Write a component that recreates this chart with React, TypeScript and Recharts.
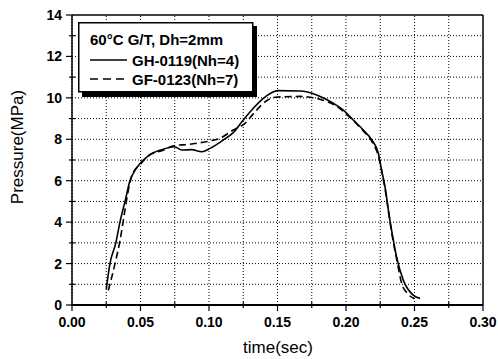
import React from "react"
import {
  LineChart,
  Line,
  XAxis,
  YAxis,
  Legend,
  Label,
  ReferenceLine
} from "recharts"

// GH-0119 (Nh=4), solid
const solidTime = [
  0.025, 0.0277, 0.032, 0.035, 0.0387, 0.0423, 0.046, 0.05, 0.0557, 0.0655,
  0.075, 0.08, 0.0874, 0.0947, 0.1007, 0.1105, 0.1177, 0.125, 0.1323, 0.1396,
  0.1457, 0.15, 0.1664, 0.1786, 0.1907, 0.198, 0.2053, 0.2126, 0.2188, 0.2236,
  0.226, 0.2285, 0.2309, 0.2333, 0.237, 0.2418, 0.249, 0.254
]
const solidPressure = [
  0.76, 2.0, 3.0, 4.0, 5.0, 6.0, 6.5, 6.85, 7.2, 7.5,
  7.64, 7.48, 7.5, 7.4, 7.56, 7.97, 8.32, 8.93, 9.5, 9.98,
  10.25, 10.35, 10.33, 10.14, 9.74, 9.41, 8.93, 8.45, 7.97, 7.32,
  6.5, 5.7, 4.6, 3.6, 2.3, 1.2, 0.48, 0.32
]

// GF-0123 (Nh=7), dashed
const dashedTime = [
  0.0265, 0.0314, 0.035, 0.0387, 0.041, 0.044, 0.05, 0.0557, 0.0655, 0.075,
  0.085, 0.095, 0.1007, 0.108, 0.1177, 0.1263, 0.1336, 0.1421, 0.1482, 0.1664,
  0.181, 0.193, 0.2053, 0.2126, 0.2188, 0.2236, 0.2285, 0.2333, 0.237, 0.2406,
  0.245, 0.25
]
const dashedPressure = [
  0.7, 2.0, 3.1, 4.6, 5.5, 6.3, 6.8, 7.2, 7.45, 7.7,
  7.75, 7.85, 7.92, 8.05, 8.45, 8.77, 9.33, 9.86, 10.03, 10.07,
  9.93, 9.6, 8.9, 8.4, 7.9, 7.2, 5.6, 3.5, 2.2, 1.05,
  0.55, 0.3
]

const xTicks = [
  0, 0.025, 0.05, 0.075, 0.1, 0.125, 0.15, 0.175, 0.2, 0.225, 0.25, 0.275, 0.3
]
const xMajor = [0, 0.05, 0.1, 0.15, 0.2, 0.25, 0.3]
const yTicks = [0, 1, 2, 3, 4, 5, 6, 7, 8, 9, 10, 11, 12, 13, 14]
const yMajor = [0, 2, 4, 6, 8, 10, 12, 14]

const legendTitle = "60°C G/T, Dh=2mm"
const solidName = "GH-0119(Nh=4)"
const dashedName = "GF-0123(Nh=7)"

const FONT = "'Liberation Sans', Arial, sans-serif"

const solidData = solidTime.map((t, i) => ({ time: t, pressure: solidPressure[i] }))
const dashedData = dashedTime.map((t, i) => ({ time: t, pressure: dashedPressure[i] }))

const isMajor = (list: number[], v: number) =>
  list.some((m) => Math.abs(m - v) < 1e-6)

function YTick(props: any) {
  const { x, y, payload } = props
  const major = isMajor(yMajor, payload.value)
  return (
    <g>
      <line
        x1={major ? x - 6 : x - 3}
        x2={major ? x : x + 3}
        y1={y}
        y2={y}
        stroke="#000"
        strokeWidth={1.2}
      />
      {major && (
        <text
          x={x - 10}
          y={y}
          textAnchor="end"
          dominantBaseline="central"
          fontFamily={FONT}
          fontWeight="bold"
          fontSize={14}
          fill="#000"
        >
          {payload.value}
        </text>
      )}
    </g>
  )
}

function XTick(props: any) {
  const { x, y, payload } = props
  const major = isMajor(xMajor, payload.value)
  return (
    <g>
      <line
        x1={x}
        x2={x}
        y1={major ? y : y - 3}
        y2={major ? y + 6 : y + 3}
        stroke="#000"
        strokeWidth={1.2}
      />
      {major && (
        <text
          x={x}
          y={y + 17}
          textAnchor="middle"
          dominantBaseline="central"
          fontFamily={FONT}
          fontWeight="bold"
          fontSize={14}
          fill="#000"
        >
          {payload.value.toFixed(2)}
        </text>
      )}
    </g>
  )
}

function LegendBox() {
  return (
    <svg width={182} height={78} style={{ display: "block" }}>
      <rect x={4} y={4} width={175} height={71} fill="#000" />
      <rect x={0.75} y={0.75} width={174} height={69} fill="#fff" stroke="#000" strokeWidth={1.5} />
      <g fontFamily={FONT} fontWeight="bold" fontSize={15} fill="#000">
        <text x={12} y={17} dominantBaseline="central">{legendTitle}</text>
        <line x1={12} x2={49} y1={38} y2={38} stroke="#000" strokeWidth={1.6} />
        <text x={54} y={38} dominantBaseline="central">{solidName}</text>
        <line x1={12} x2={49} y1={57} y2={57} stroke="#000" strokeWidth={1.6} strokeDasharray="8 5" />
        <text x={54} y={57} dominantBaseline="central">{dashedName}</text>
      </g>
    </svg>
  )
}

export default function App() {
  return (
    <div style={{ background: "#fff", width: 498, height: 359, padding: "8px 0 0 8px", boxSizing: "border-box" }}>
      <style>{"body{margin:0}"}</style>
      <LineChart
        width={490}
        height={351}
        data={solidData}
        margin={{ top: 7, right: 15, bottom: 0, left: 0 }}
      >
        {yTicks.map((v) => (
          <ReferenceLine
            key={`gy-${v}`}
            y={v}
            stroke="#000"
            strokeWidth={v === 14 ? 1.5 : 1}
            strokeDasharray={v === 14 ? undefined : "1 2"}
          />
        ))}
        {xTicks.map((v) => (
          <ReferenceLine
            key={`gx-${v}`}
            x={v}
            stroke="#000"
            strokeWidth={v === 0.3 ? 1.5 : 1}
            strokeDasharray={v === 0.3 ? undefined : "1 2"}
          />
        ))}
        <XAxis
          dataKey="time"
          type="number"
          domain={[0, 0.3]}
          ticks={xTicks}
          interval={0}
          height={54}
          tickSize={0}
          tickMargin={0}
          tick={<XTick />}
          axisLine={{ stroke: "#000", strokeWidth: 2 }}
          allowDataOverflow
        >
          <Label
            content={() => (
              <text
                x={270}
                y={339}
                textAnchor="middle"
                dominantBaseline="central"
                fontFamily={FONT}
                fontSize={17}
                fill="#000"
              >
                time(sec)
              </text>
            )}
          />
        </XAxis>
        <YAxis
          type="number"
          domain={[0, 14]}
          ticks={yTicks}
          interval={0}
          width={64}
          tickSize={0}
          tickMargin={0}
          tick={<YTick />}
          axisLine={{ stroke: "#000", strokeWidth: 1.5 }}
          allowDataOverflow
        >
          <Label
            content={() => (
              <text
                x={9.5}
                y={139}
                transform="rotate(-90, 9.5, 139)"
                textAnchor="middle"
                dominantBaseline="central"
                fontFamily={FONT}
                fontSize={17}
                fill="#000"
              >
                Pressure(MPa)
              </text>
            )}
          />
        </YAxis>
        <Legend
          layout="vertical"
          align="center"
          verticalAlign="middle"
          content={() => <LegendBox />}
          wrapperStyle={{ left: 70, top: 14, width: 182, height: 78 }}
        />
        <Line
          data={solidData}
          dataKey="pressure"
          name={solidName}
          type="monotone"
          stroke="#000"
          strokeWidth={1.6}
          dot={false}
          activeDot={false}
          isAnimationActive={false}
        />
        <Line
          data={dashedData}
          dataKey="pressure"
          name={dashedName}
          type="monotone"
          stroke="#000"
          strokeWidth={1.6}
          strokeDasharray="7 4"
          dot={false}
          activeDot={false}
          isAnimationActive={false}
        />
      </LineChart>
    </div>
  )
}
